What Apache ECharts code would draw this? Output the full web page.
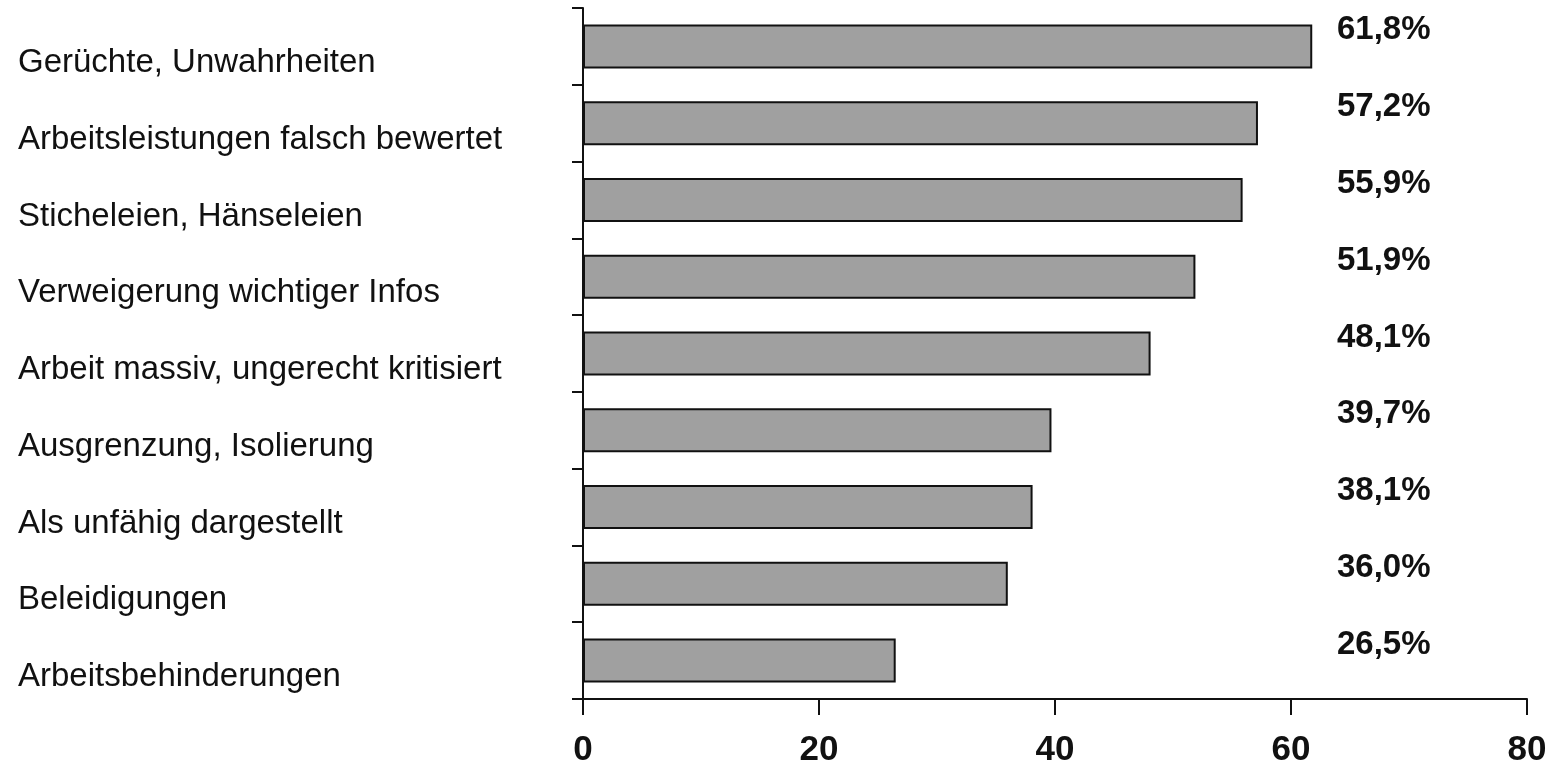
<!DOCTYPE html>
<html>
<head>
<meta charset="utf-8">
<script src="https://cdn.jsdelivr.net/npm/echarts@6/dist/echarts.min.js"></script>
<style>
html,body{margin:0;padding:0;background:#fff;}
#chart{width:1556px;height:775px;}
</style>
</head>
<body>
<div id="chart"></div>
<script>
var categories = [
  'Gerüchte, Unwahrheiten',
  'Arbeitsleistungen falsch bewertet',
  'Sticheleien, Hänseleien',
  'Verweigerung wichtiger Infos',
  'Arbeit massiv, ungerecht kritisiert',
  'Ausgrenzung, Isolierung',
  'Als unfähig dargestellt',
  'Beleidigungen',
  'Arbeitsbehinderungen'
];
var values = [61.8, 57.2, 55.9, 51.9, 48.1, 39.7, 38.1, 36.0, 26.5];
var xTicks = [0, 20, 40, 60, 80];

var chart = echarts.init(document.getElementById('chart'));
chart.setOption({
  animation: false,
  backgroundColor: '#ffffff',
  textStyle: { fontFamily: 'Liberation Sans, Arial, sans-serif' },
  grid: { left: 583, right: 29, top: 8, bottom: 76 },
  xAxis: {
    type: 'value',
    min: xTicks[0],
    max: xTicks[xTicks.length - 1],
    interval: xTicks[1] - xTicks[0],
    axisLine: { show: true, lineStyle: { color: '#111', width: 2 } },
    axisTick: { show: true, length: 16, lineStyle: { color: '#111', width: 2 } },
    splitLine: { show: false },
    axisLabel: {
      margin: 34,
      fontSize: 35,
      fontWeight: 'bold',
      color: '#111',
      fontFamily: 'Liberation Sans, Arial, sans-serif'
    }
  },
  yAxis: {
    type: 'category',
    inverse: true,
    data: categories,
    axisLine: { show: true, lineStyle: { color: '#111', width: 2 } },
    axisTick: { show: true, length: 11, lineStyle: { color: '#111', width: 2 } },
    axisLabel: {
      margin: 565,
      align: 'left',
      verticalAlign: 'top',
      fontSize: 33,
      color: '#111',
      fontFamily: 'Liberation Sans, Arial, sans-serif'
    }
  },
  series: [{
    type: 'bar',
    data: values,
    barWidth: 44,
    itemStyle: { color: '#a0a0a0', borderColor: '#111', borderWidth: 2 },
    label: {
      show: true,
      position: [754, 6],
      align: 'left',
      verticalAlign: 'middle',
      fontSize: 33,
      fontWeight: 'bold',
      color: '#111',
      fontFamily: 'Liberation Sans, Arial, sans-serif',
      formatter: function (p) { return p.value.toFixed(1).replace('.', ',') + '%'; }
    }
  }]
});
</script>
</body>
</html>
